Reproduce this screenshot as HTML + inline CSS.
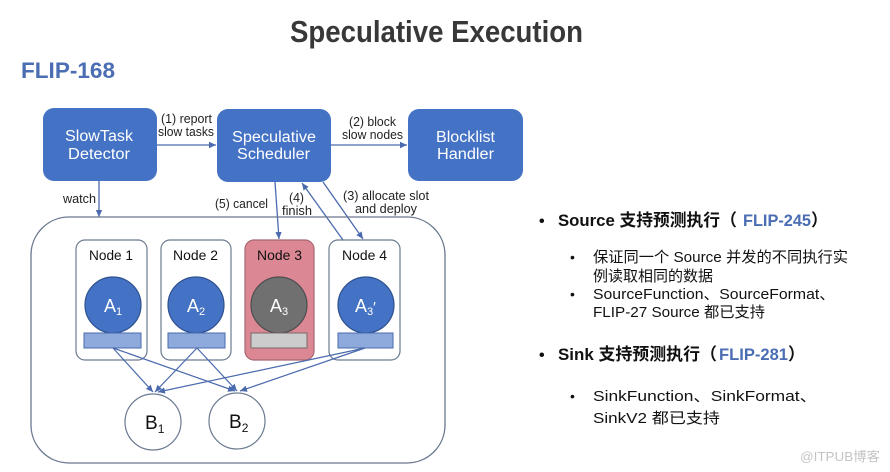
<!DOCTYPE html>
<html><head><meta charset="utf-8"><style>
html,body{margin:0;padding:0;background:#fff;}
svg{display:block;}
text{font-family:"Liberation Sans","Noto Sans CJK SC",sans-serif;}
</style></head><body>
<svg width="890" height="472" viewBox="0 0 890 472" xmlns="http://www.w3.org/2000/svg">
<defs>
<marker id="ah" markerWidth="8" markerHeight="8" refX="7" refY="4" orient="auto" markerUnits="userSpaceOnUse">
<path d="M0,0.8 L7,4 L0,7.2 Z" fill="#4a6aad"/>
</marker>
</defs>
<rect width="890" height="472" fill="#fff"/>
<!-- Title -->
<text x="290" y="42" font-size="31" font-weight="bold" fill="#383838" textLength="293" lengthAdjust="spacingAndGlyphs">Speculative Execution</text>
<text x="21" y="78" font-size="22" font-weight="bold" fill="#4b6db3" textLength="94" lengthAdjust="spacingAndGlyphs">FLIP-168</text>

<!-- Top boxes -->
<rect x="43" y="108" width="114" height="73" rx="11" fill="#4472c4"/>
<rect x="217" y="109" width="114" height="73" rx="11" fill="#4472c4"/>
<rect x="408" y="109" width="115" height="72" rx="11" fill="#4472c4"/>
<g fill="#fff" font-size="15.5">
<text x="65" y="141" textLength="68" lengthAdjust="spacingAndGlyphs">SlowTask</text>
<text x="68" y="159" textLength="62" lengthAdjust="spacingAndGlyphs">Detector</text>
<text x="232" y="142" textLength="84" lengthAdjust="spacingAndGlyphs">Speculative</text>
<text x="237" y="159" textLength="73" lengthAdjust="spacingAndGlyphs">Scheduler</text>
<text x="436" y="142" textLength="59" lengthAdjust="spacingAndGlyphs">Blocklist</text>
<text x="437" y="159" textLength="57" lengthAdjust="spacingAndGlyphs">Handler</text>
</g>

<!-- Connectors -->
<g stroke="#4a6aad" stroke-width="1.3" fill="none">
<line x1="157" y1="145" x2="216" y2="145" marker-end="url(#ah)"/>
<line x1="331" y1="145" x2="407" y2="145" marker-end="url(#ah)"/>
<line x1="99" y1="181" x2="99" y2="217" marker-end="url(#ah)"/>
<line x1="275" y1="182" x2="279" y2="239" marker-end="url(#ah)"/>
<line x1="343" y1="240" x2="302" y2="183" marker-end="url(#ah)"/>
<line x1="323" y1="182" x2="363" y2="239" marker-end="url(#ah)"/>
</g>

<g fill="#222" font-size="12.5">
<text x="161" y="123" textLength="51" lengthAdjust="spacingAndGlyphs">(1) report</text>
<text x="158" y="136" textLength="56" lengthAdjust="spacingAndGlyphs">slow tasks</text>
<text x="349" y="126" textLength="47" lengthAdjust="spacingAndGlyphs">(2) block</text>
<text x="342" y="139" textLength="61" lengthAdjust="spacingAndGlyphs">slow nodes</text>
<text x="63" y="203" textLength="33" lengthAdjust="spacingAndGlyphs">watch</text>
<text x="215" y="208" textLength="53" lengthAdjust="spacingAndGlyphs">(5) cancel</text>
<text x="289" y="202" textLength="15" lengthAdjust="spacingAndGlyphs">(4)</text>
<text x="282" y="215" textLength="30" lengthAdjust="spacingAndGlyphs">finish</text>
<text x="343" y="200" textLength="86" lengthAdjust="spacingAndGlyphs">(3) allocate slot</text>
<text x="355" y="213" textLength="62" lengthAdjust="spacingAndGlyphs">and deploy</text>
</g>

<!-- Container -->
<rect x="31" y="217" width="414" height="246" rx="38" fill="none" stroke="#6a7890" stroke-width="1.3"/>

<!-- Nodes -->
<rect x="76" y="240" width="71" height="120" rx="9" fill="#fff" stroke="#6b7a90" stroke-width="1.2"/>
<rect x="161" y="240" width="70" height="120" rx="9" fill="#fff" stroke="#6b7a90" stroke-width="1.2"/>
<rect x="245" y="240" width="69" height="120" rx="9" fill="#dc8794" stroke="#a86672" stroke-width="1.2"/>
<rect x="329" y="240" width="71" height="120" rx="9" fill="#fff" stroke="#6b7a90" stroke-width="1.2"/>
<g fill="#111" font-size="14">
<text x="89" y="260" textLength="44" lengthAdjust="spacingAndGlyphs">Node 1</text>
<text x="173" y="260" textLength="45" lengthAdjust="spacingAndGlyphs">Node 2</text>
<text x="257" y="260" textLength="45" lengthAdjust="spacingAndGlyphs">Node 3</text>
<text x="342" y="260" textLength="45" lengthAdjust="spacingAndGlyphs">Node 4</text>
</g>

<!-- A circles -->
<circle cx="113" cy="305" r="28" fill="#4472c4" stroke="#2f528f" stroke-width="1.2"/>
<circle cx="196" cy="305" r="28" fill="#4472c4" stroke="#2f528f" stroke-width="1.2"/>
<circle cx="279" cy="305" r="28" fill="#707070" stroke="#4e4e4e" stroke-width="1.2"/>
<circle cx="366" cy="305" r="28" fill="#4472c4" stroke="#2f528f" stroke-width="1.2"/>
<g fill="#fff" font-size="18">
<text x="104" y="312">A<tspan font-size="11" dy="3">1</tspan></text>
<text x="187" y="312">A<tspan font-size="11" dy="3">2</tspan></text>
<text x="270" y="312">A<tspan font-size="11" dy="3">3</tspan></text>
<text x="355" y="312">A<tspan font-size="11" dy="3">3</tspan></text>
<text x="373" y="312" font-size="15">′</text>
</g>

<!-- rects -->
<rect x="84" y="333" width="57" height="15" fill="#8ea9db" stroke="#4a6aad" stroke-width="1"/>
<rect x="168" y="333" width="57" height="15" fill="#8ea9db" stroke="#4a6aad" stroke-width="1"/>
<rect x="251" y="333" width="56" height="15" fill="#cccccc" stroke="#7a6a6a" stroke-width="1"/>
<rect x="338" y="333" width="55" height="15" fill="#8ea9db" stroke="#4a6aad" stroke-width="1"/>

<!-- data arrows -->
<g stroke="#4a6aad" stroke-width="1.2" fill="none">
<line x1="113" y1="348" x2="153" y2="392" marker-end="url(#ah)"/>
<line x1="113" y1="348" x2="235" y2="391" marker-end="url(#ah)"/>
<line x1="197" y1="348" x2="155" y2="392" marker-end="url(#ah)"/>
<line x1="197" y1="348" x2="237" y2="391" marker-end="url(#ah)"/>
<line x1="365" y1="348" x2="158" y2="392" marker-end="url(#ah)"/>
<line x1="365" y1="348" x2="240" y2="391" marker-end="url(#ah)"/>
</g>

<!-- B circles -->
<circle cx="153" cy="422" r="28" fill="#fff" stroke="#6b7a90" stroke-width="1.2"/>
<circle cx="237" cy="421" r="28" fill="#fff" stroke="#6b7a90" stroke-width="1.2"/>
<g fill="#111" font-size="19">
<text x="145" y="429">B<tspan font-size="12" dy="4">1</tspan></text>
<text x="229" y="428">B<tspan font-size="12" dy="4">2</tspan></text>
</g>

<!-- Right text -->
<g font-weight="bold" font-size="17" fill="#111">
<text x="539" y="226" font-size="16">•</text>
<text x="558" y="226" textLength="162" lengthAdjust="spacingAndGlyphs">Source 支持预测执行</text>
<text x="720" y="226">（</text>
<text x="743" y="226" fill="#4b6db3" textLength="68" lengthAdjust="spacingAndGlyphs">FLIP-245</text>
<text x="811" y="226">）</text>

<text x="539" y="360" font-size="16">•</text>
<text x="558" y="360" textLength="142" lengthAdjust="spacingAndGlyphs">Sink 支持预测执行</text>
<text x="700" y="360">（</text>
<text x="719" y="360" fill="#4b6db3" textLength="69" lengthAdjust="spacingAndGlyphs">FLIP-281</text>
<text x="788" y="360">）</text>
</g>
<g font-size="15" fill="#111">
<text x="570" y="262" font-size="14">•</text>
<text x="593" y="262" textLength="255" lengthAdjust="spacingAndGlyphs">保证同一个 Source 并发的不同执行实</text>
<text x="593" y="281" textLength="120" lengthAdjust="spacingAndGlyphs">例读取相同的数据</text>
<text x="570" y="299" font-size="14">•</text>
<text x="593" y="299" textLength="242" lengthAdjust="spacingAndGlyphs">SourceFunction、SourceFormat、</text>
<text x="593" y="317" textLength="172" lengthAdjust="spacingAndGlyphs">FLIP-27 Source 都已支持</text>
<text x="570" y="401" font-size="14">•</text>
<text x="593" y="401" textLength="224" lengthAdjust="spacingAndGlyphs">SinkFunction、SinkFormat、</text>
<text x="593" y="423" textLength="127" lengthAdjust="spacingAndGlyphs">SinkV2 都已支持</text>
</g>
<text x="800" y="461" font-size="13" fill="#c4c4c4" textLength="80" lengthAdjust="spacingAndGlyphs">@ITPUB博客</text>
</svg>
</body></html>
